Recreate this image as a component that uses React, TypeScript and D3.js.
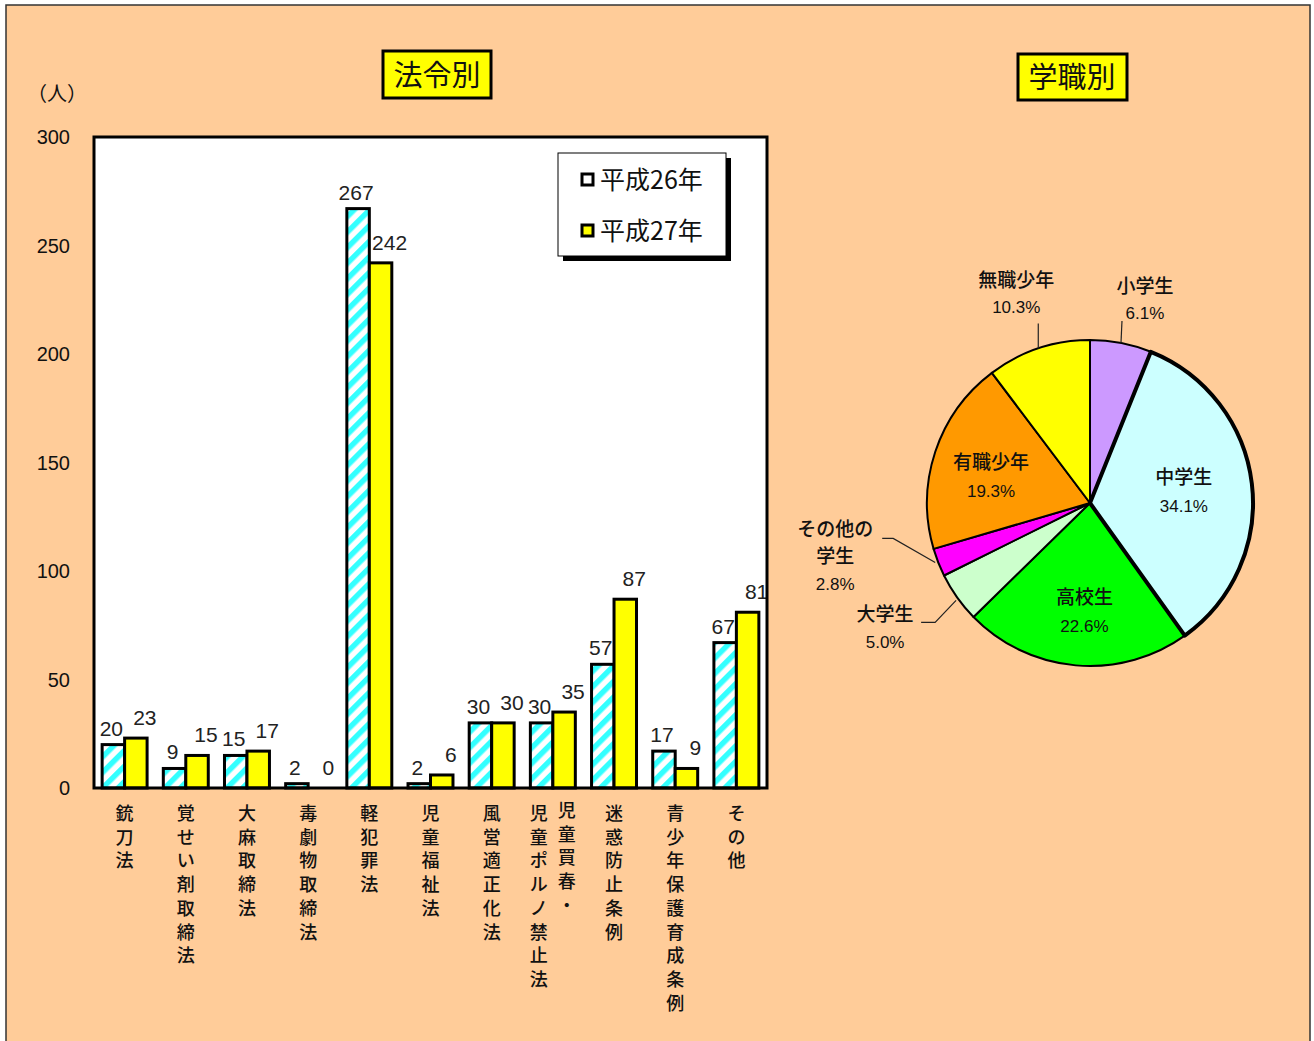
import React from "react";
import * as d3 from "d3";

// 法令別
const categories = [
  ["銃刀法"],
  ["覚せい剤取締法"],
  ["大麻取締法"],
  ["毒劇物取締法"],
  ["軽犯罪法"],
  ["児童福祉法"],
  ["風営適正化法"],
  ["児童買春・", "児童ポルノ禁止法"],
  ["迷惑防止条例"],
  ["青少年保護育成条例"],
  ["その他"],
];
const h26 = [20, 9, 15, 2, 267, 2, 30, 30, 57, 17, 67];
const h27 = [23, 15, 17, 0, 242, 6, 30, 35, 87, 9, 81];
const seriesNames = ["平成26年", "平成27年"];
const yTicks = [0, 50, 100, 150, 200, 250, 300];

// 学職別
const pieNames = ["小学生", "中学生", "高校生", "大学生", "その他の学生", "有職少年", "無職少年"];
const piePct = [6.1, 34.1, 22.6, 5.0, 2.8, 19.3, 10.3];
const pieColors = ["#CC99FF", "#CCFFFF", "#00FF00", "#CCFFCC", "#FF00FF", "#FF9900", "#FFFF00"];

const JP = "'Noto Sans CJK JP', sans-serif";
const NUM = "'Liberation Sans', Arial, sans-serif";

const BarChart = () => {
  const left = 94, right = 767, top = 137, bottom = 788;
  const x0 = d3.scaleBand<number>().domain(d3.range(categories.length)).range([left, right]).paddingInner(0.265).paddingOuter(0.133);
  const x1 = d3.scaleBand<number>().domain([0, 1]).range([0, x0.bandwidth()]);
  const y = d3.scaleLinear().domain([0, 300]).range([bottom, top]);
  const series = [h26, h27];

  return (
    <g>
      <defs>
        <pattern id="stripe" width="11" height="11" patternUnits="userSpaceOnUse" patternTransform="rotate(45)">
          <rect width="11" height="11" fill="#ffffff" />
          <rect width="5.5" height="11" fill="#33FFFF" />
        </pattern>
      </defs>
      <rect x={left} y={top} width={right - left} height={bottom - top} fill="#ffffff" />
      {yTicks.map((t) => (
        <text key={t} x={70} y={y(t) + 7} textAnchor="end" fontSize={20} fontFamily={NUM} fill="#111">{t}</text>
      ))}
      <text x={57} y={101} textAnchor="middle" fontSize={20} fontFamily={JP} fill="#111">（人）</text>

      {series.map((vals, s) =>
        vals.map((v, i) => {
          const bx = (x0(i) as number) + (x1(s) as number);
          const bw = x1.bandwidth();
          return (
            <g key={`${s}-${i}`}>
              <rect x={bx} y={y(v)} width={bw} height={bottom - y(v)} fill={s === 0 ? "url(#stripe)" : "#FFFF00"} stroke="#000" strokeWidth={3} />
              <text x={bx + bw / 2 + (s === 0 ? -2 : 9)} y={y(v) - (s === 0 ? 9 : 13)} textAnchor="middle" fontSize={21} fontFamily={NUM} fill="#222">{v}</text>
            </g>
          );
        })
      )}
      <rect x={left} y={top} width={right - left} height={bottom - top} fill="none" stroke="#000" strokeWidth={3} />

      {categories.map((cols, i) => {
        const cx = (x0(i) as number) + x0.bandwidth() / 2;
        return cols.map((col, c) => {
          const colX = cols.length === 1 ? cx : cx + (c === 0 ? 14 : -14);
          const y0 = cols.length > 1 && c === 0 ? 817 : 820;
          return Array.from(col).map((ch, k) => (
            <text key={`${i}-${c}-${k}`} x={colX} y={y0 + k * 23.7} textAnchor="middle" fontSize={18} fontFamily={JP} fontWeight={500} fill="#111">{ch}</text>
          ));
        });
      })}

      {/* legend */}
      <rect x={563} y={158} width={168} height={103} fill="#000" />
      <rect x={558} y={153} width={168} height={103} fill="#fff" stroke="#000" strokeWidth={1} />
      {seriesNames.map((n, i) => (
        <g key={n}>
          <rect x={582} y={174 + i * 51} width={11} height={11} fill={i === 0 ? "#fff" : "#FFFF00"} stroke="#000" strokeWidth={3} />
          <text x={600} y={189 + i * 51} fontSize={25} fontFamily={JP} fill="#111">{n}</text>
        </g>
      ))}

      {/* title */}
      <rect x={383} y={51} width={108} height={47} fill="#FFFF00" stroke="#000" strokeWidth={3} />
      <text x={437} y={86} textAnchor="middle" fontSize={29} fontFamily={JP} fill="#111">法令別</text>
    </g>
  );
};

const PieChart = () => {
  const cx = 1090, cy = 503, r = 163;
  const pie = d3.pie<number>().sort(null).value((d) => d);
  const arcs = pie(piePct);
  const arc = d3.arc<d3.PieArcDatum<number>>().innerRadius(0).outerRadius(r);
  const edge = (a: d3.PieArcDatum<number>) => {
    const m = (a.startAngle + a.endAngle) / 2;
    return [cx + r * Math.sin(m), cy - r * Math.cos(m)];
  };
  const inside = (a: d3.PieArcDatum<number>, k: number) => {
    const m = (a.startAngle + a.endAngle) / 2;
    return [cx + r * k * Math.sin(m), cy - r * k * Math.cos(m)];
  };
  const order = [0, 2, 3, 4, 5, 6, 1];

  const nameStyle = { fontSize: 19, fontFamily: JP, fill: "#111", fontWeight: 500 } as const;
  const pctStyle = { fontSize: 17, fontFamily: NUM, fill: "#111" } as const;

  const insideLabel = (i: number, k: number, dx: number, dy: number) => {
    const [lx, ly] = inside(arcs[i], k);
    return (
      <g key={`in-${i}`}>
        <text x={lx + dx} y={ly + dy} textAnchor="middle" {...nameStyle}>{pieNames[i]}</text>
        <text x={lx + dx} y={ly + dy + 28} textAnchor="middle" {...pctStyle}>{piePct[i].toFixed(1)}%</text>
      </g>
    );
  };

  const [e0x, e0y] = edge(arcs[0]);
  const [e6x, e6y] = edge(arcs[6]);
  const [e4x, e4y] = edge(arcs[4]);
  const [e3x, e3y] = edge(arcs[3]);

  return (
    <g>
      <g transform={`translate(${cx},${cy})`}>
        {order.map((i) => (
          <path key={i} d={arc(arcs[i]) as string} fill={pieColors[i]} stroke="#000" strokeWidth={i === 1 ? 4 : 2} strokeLinejoin="round" />
        ))}
      </g>
      {insideLabel(1, 0.58, 0, -8)}
      {insideLabel(2, 0.6, 3, 4)}
      {insideLabel(5, 0.62, -3, -2)}

      {/* 小学生 */}
      <line x1={e0x} y1={e0y} x2={e0x + 1} y2={e0y - 22} stroke="#222" strokeWidth={1.2} />
      <text x={e0x + 24} y={e0y - 50} textAnchor="middle" {...nameStyle}>{pieNames[0]}</text>
      <text x={e0x + 24} y={e0y - 24} textAnchor="middle" {...pctStyle}>{piePct[0].toFixed(1)}%</text>
      {/* 無職少年 */}
      <line x1={e6x} y1={e6y} x2={e6x} y2={e6y - 25} stroke="#222" strokeWidth={1.2} />
      <text x={e6x - 22} y={e6y - 61} textAnchor="middle" {...nameStyle}>{pieNames[6]}</text>
      <text x={e6x - 22} y={e6y - 35} textAnchor="middle" {...pctStyle}>{piePct[6].toFixed(1)}%</text>
      {/* その他の学生 */}
      <polyline points={`${e4x - 3},${e4y} ${e4x - 45},${e4y - 24} ${e4x - 56},${e4y - 24}`} fill="none" stroke="#222" strokeWidth={1.2} />
      <text x={e4x - 103} y={e4y - 26} textAnchor="middle" {...nameStyle}>その他の</text>
      <text x={e4x - 103} y={e4y + 1} textAnchor="middle" {...nameStyle}>学生</text>
      <text x={e4x - 103} y={e4y + 28} textAnchor="middle" {...pctStyle}>{piePct[4].toFixed(1)}%</text>
      {/* 大学生 */}
      <polyline points={`${e3x - 1},${e3y + 3} ${e3x - 22},${e3y + 25} ${e3x - 36},${e3y + 25}`} fill="none" stroke="#222" strokeWidth={1.2} />
      <text x={e3x - 72} y={e3y + 24} textAnchor="middle" {...nameStyle}>{pieNames[3]}</text>
      <text x={e3x - 72} y={e3y + 51} textAnchor="middle" {...pctStyle}>{piePct[3].toFixed(1)}%</text>

      {/* title */}
      <rect x={1018} y={54} width={109} height={46} fill="#FFFF00" stroke="#000" strokeWidth={3} />
      <text x={1072} y={88} textAnchor="middle" fontSize={29} fontFamily={JP} fill="#111">学職別</text>
    </g>
  );
};

export default function App() {
  return (
    <svg width={1314} height={1041} style={{ position: "absolute", left: 0, top: 0, display: "block" }}>
      <rect x={0} y={0} width={1314} height={1041} fill="#ffffff" />
      <rect x={6} y={5} width={1304} height={1060} fill="#FFCC99" stroke="#333" strokeWidth={1.5} />
      <BarChart />
      <PieChart />
    </svg>
  );
}
